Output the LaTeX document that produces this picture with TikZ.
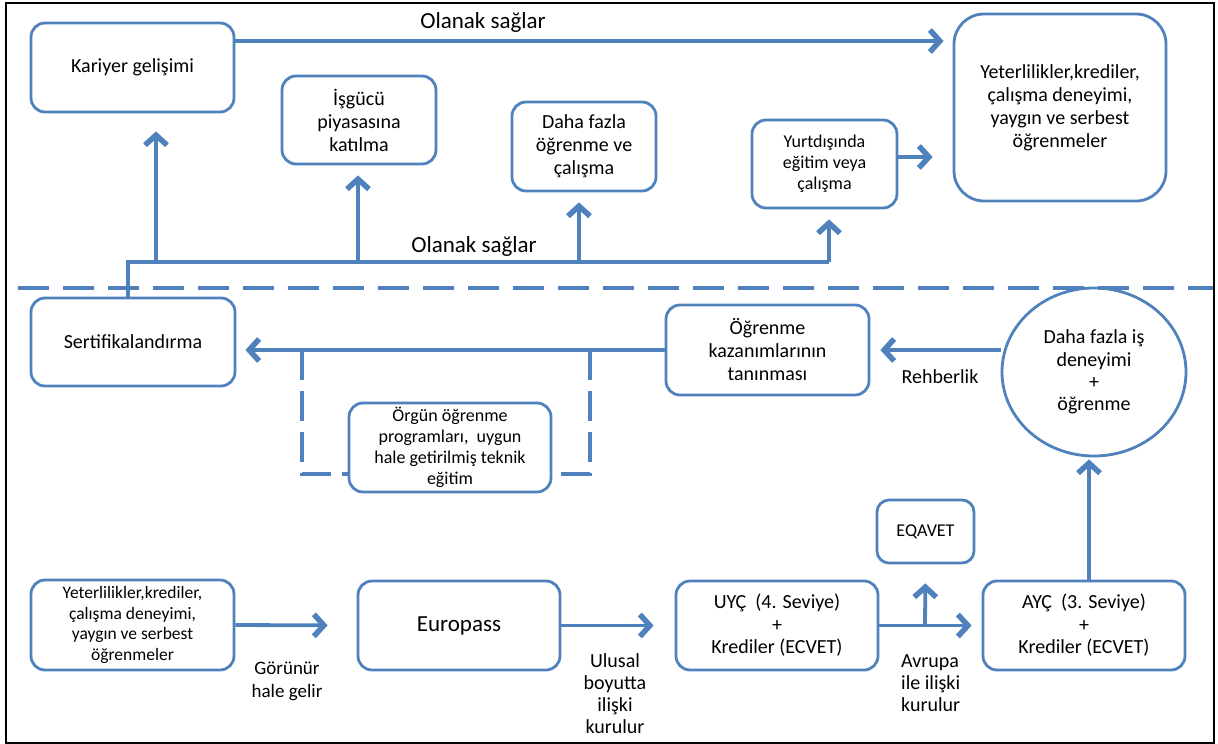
\documentclass[tikz,border=0pt]{standalone}
\usepackage{fontspec}
\setmainfont{Carlito}
\usetikzlibrary{arrows.meta,shapes.geometric}
\definecolor{mavi}{HTML}{4F81BD}
\tikzset{
  kutu/.style={draw=mavi, line width=2.8pt, rounded corners=14pt, align=center,
    inner sep=0pt, font=\fontsize{20pt}{23pt}\selectfont},
  ok/.style={draw=mavi, line width=3.8pt, -{Straight Barb[length=10pt,width=22pt,line width=5.5pt]}},
  hat/.style={draw=mavi, line width=3.8pt},
  kesik/.style={draw=mavi, line width=3.3pt, dash pattern=on 30pt off 11pt},
  yazi/.style={align=center, inner sep=0pt, font=\fontsize{20pt}{22pt}\selectfont},
}
\begin{document}
\begin{tikzpicture}[x=1pt,y=-1pt]
\useasboundingbox (0,0) rectangle (1218,744);
\draw[line width=1.6pt] (6,3) rectangle (1214,743);
\draw[mavi, line width=3.5pt, dash pattern=on 31pt off 14pt] (18,288) -- (1213,288);

% ust bolum
\node[kutu, minimum width=203pt, minimum height=89pt] (kariyer) at (132.5,67.5) {Kariyer gelişimi};
\node[kutu, minimum width=154pt, minimum height=88pt] (isgucu) at (359,120) {İşgücü\\piyasasına\\katılma};
\node[kutu, minimum width=144pt, minimum height=89pt] (dahafazla) at (584,146.5) {Daha fazla\\öğrenme ve\\çalışma};
\node[kutu, minimum width=145pt, minimum height=88pt, font=\fontsize{18pt}{21pt}\selectfont] (yurtdisi) at (824.5,164) {Yurtdışında\\eğitim veya\\çalışma};
\node[kutu, minimum width=212pt, minimum height=187pt, rounded corners=30pt] (yeterlilik) at (1060,107.5) {Yeterlilikler,krediler,\\çalışma deneyimi,\\yaygın ve serbest\\öğrenmeler};
\node[yazi, font=\fontsize{23pt}{26pt}\selectfont] (olanak1) at (483,22) {Olanak sağlar};
\node[yazi, font=\fontsize{23pt}{26pt}\selectfont] (olanak2) at (474,246) {Olanak sağlar};

\coordinate (b0) at (128,262);
\coordinate (b1) at (156,262);
\coordinate (b2) at (358,262);
\coordinate (b3) at (579,262);
\coordinate (b4) at (829,262);

\draw[ok, shorten >=9pt] (kariyer.east |- 0,41) -- (yeterlilik.west |- 0,41);
\draw[ok, shorten >=20pt] (yurtdisi.east |- 0,157) -- (yeterlilik.west |- 0,157);

% alt bolum
\node[kutu, minimum width=204pt, minimum height=88pt] (sertifika) at (133,342) {Sertifikalandırma};
\node[kutu, minimum width=202pt, minimum height=89pt, font=\fontsize{18pt}{21pt}\selectfont] (orgun) at (450,447.5) {Örgün öğrenme\\programları,~ uygun\\hale getirilmiş teknik\\eğitim};
\node[kutu, minimum width=203pt, minimum height=90pt] (ogrenme) at (767.5,350) {Öğrenme\\kazanımlarının\\tanınması};
\node[kutu, ellipse, minimum width=184pt, minimum height=168pt, font=\fontsize{20pt}{22.3pt}\selectfont] (isdeneyimi) at (1094,372) {Daha fazla iş\\deneyimi\\+\\öğrenme};
\node[yazi] (rehberlik) at (940,377) {Rehberlik};

\node[kutu, minimum width=203pt, minimum height=90pt, font=\fontsize{17.5pt}{20.7pt}\selectfont] (yeterlilik2) at (132.5,625) {Yeterlilikler,krediler,\\çalışma deneyimi,\\yaygın ve serbest\\öğrenmeler};
\node[kutu, minimum width=202pt, minimum height=89pt, font=\fontsize{23pt}{26pt}\selectfont] (europass) at (459,625.5) {Europass};
\node[kutu, minimum width=202pt, minimum height=89pt, font=\fontsize{20pt}{22.5pt}\selectfont] (uyc) at (777,625.5) {UYÇ~ (4. Seviye)\\+\\Krediler (ECVET)};
\node[kutu, minimum width=97pt, minimum height=63pt, rounded corners=12pt, font=\fontsize{18pt}{21pt}\selectfont] (eqavet) at (925.5,531.5) {EQAVET};
\node[kutu, minimum width=202pt, minimum height=89pt, font=\fontsize{20pt}{22.5pt}\selectfont] (ayc) at (1084,625.5) {AYÇ~ (3. Seviye)\\+\\Krediler (ECVET)};

\node[yazi, font=\fontsize{19pt}{23pt}\selectfont] (gorunur) at (287,681) {Görünür\\hale gelir};
\node[yazi] (ulusal) at (615,694) {Ulusal\\boyutta\\ilişki\\kurulur};
\node[yazi, align=left, anchor=west] (avrupa) at (901,683) {Avrupa\\ile ilişki\\kurulur};

\coordinate (d1) at (302,350);
\coordinate (d2) at (590,350);
\coordinate (e1) at (925,625);
\coordinate (a1) at (1089,0);

\draw[hat] (sertifika.north -| b0) -- (b0) -- (b4);
\draw[ok, shorten >=18pt] (b1) -- (kariyer.south -| b1);
\draw[ok, shorten >=10pt] (b2) -- (isgucu.south -| b2);
\draw[ok, shorten >=10pt] (b3) -- (dahafazla.south -| b3);
\draw[ok, shorten >=10pt] (b4) -- (yurtdisi.south -| b4);

\draw[ok, shorten >=9pt] (ogrenme.west) -- (sertifika.east |- ogrenme.west);
\draw[kesik] (d1) |- (orgun.west |- 0,474);
\draw[kesik] (d2) |- (orgun.east |- 0,474);
\draw[ok, shorten >=10pt] (isdeneyimi.west |- 0,350) -- (ogrenme.east |- 0,350);
\draw[ok, shorten >=2pt] (ayc.north -| a1) -- (isdeneyimi.south -| a1);

\draw[ok, shorten >=29pt] (yeterlilik2.east) -- (europass.west);
\draw[ok, shorten >=21pt] (europass.east) -- (uyc.west);
\draw[ok, shorten >=10pt] (uyc.east) -- (ayc.west);
\draw[ok, shorten >=19pt] (e1) -- (eqavet.south);
\end{tikzpicture}
\end{document}
